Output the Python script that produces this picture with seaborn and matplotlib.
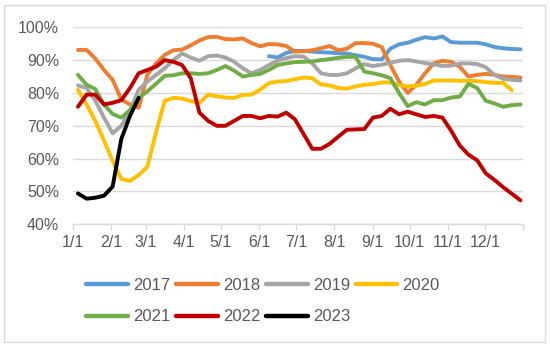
import numpy as np
import pandas as pd
import matplotlib
matplotlib.use("Agg")
import matplotlib.pyplot as plt
import seaborn as sns
from matplotlib.patches import Rectangle
from matplotlib.lines import Line2D

# ---------------- data (weekly, %) ----------------
years = ["2017", "2018", "2019", "2020", "2021", "2022", "2023"]
colors = ["#5B9BD5", "#ED7D31", "#A5A5A5", "#FFC000", "#70AD47", "#C00000", "#000000"]

start_week_2017 = 22
y2017 = [91.2, 90.8, 92.2, 92.8, 92.8, 92.6, 92.4, 92.3, 92.1, 92.0,
         91.5, 91.0, 90.3, 90.2, 93.5, 94.8, 95.3, 96.2, 97.0, 96.6,
         97.2, 95.5, 95.3, 95.3, 95.3, 94.8, 94.0, 93.6, 93.4, 93.3]
y2018 = [93.1, 93.1, 90.5, 87.0, 84.0, 78.0, 76.5, 75.5, 85.5, 89.0,
         91.6, 93.0, 93.2, 94.5, 96.0, 97.0, 97.1, 96.4, 96.3, 96.6,
         95.2, 94.2, 94.9, 94.8, 94.3, 92.6, 92.7, 93.0, 93.6, 94.3,
         93.0, 93.5, 95.2, 95.2, 95.0, 94.0, 88.5, 83.5, 80.0, 82.5,
         86.0, 89.0, 89.8, 89.5, 88.0, 85.0, 85.5, 85.8, 85.5, 85.0,
         84.9, 84.7]
y2019 = [82.3, 81.5, 77.7, 72.5, 67.7, 70.0, 74.5, 81.0, 83.5, 85.5,
         87.5, 90.0, 92.0, 90.8, 89.8, 91.2, 91.4, 90.8, 89.5, 87.5,
         86.0, 87.0, 88.5, 89.8, 90.6, 91.2, 91.1, 89.0, 86.0, 85.5,
         85.5, 86.0, 87.5, 88.8, 88.2, 88.6, 89.2, 89.8, 90.0, 89.6,
         89.1, 88.7, 88.2, 88.3, 89.0, 89.0, 88.8, 87.8, 85.5, 84.3,
         84.0, 83.8]
y2020 = [81.0, 76.5, 71.5, 65.5, 59.3, 53.8, 53.2, 55.0, 57.5, 68.0,
         77.6, 78.5, 78.3, 77.5, 77.0, 79.5, 79.0, 78.6, 78.5, 79.4,
         79.5, 81.0, 83.0, 83.5, 83.6, 84.2, 84.7, 84.5, 82.6, 82.3,
         81.5, 81.3, 82.0, 82.5, 82.7, 83.2, 83.2, 82.4, 82.0, 82.2,
         82.7, 83.8, 83.8, 83.8, 83.7, 83.7, 83.6, 83.3, 83.1, 83.1,
         80.8]
y2021 = [85.5, 82.5, 81.2, 76.5, 73.6, 72.5, 74.8, 78.5, 80.5, 82.8,
         85.2, 85.4, 86.0, 86.0, 85.8, 86.0, 87.0, 88.2, 86.8, 85.0,
         85.5, 85.8, 87.0, 88.5, 89.0, 89.4, 89.5, 89.6, 90.0, 90.3,
         90.7, 91.0, 91.0, 86.5, 86.0, 85.4, 84.5, 80.0, 76.0, 77.2,
         76.5, 77.8, 77.8, 78.6, 78.9, 82.8, 81.5, 77.6, 76.8, 75.8,
         76.3, 76.5]
y2022 = [75.8, 79.5, 79.5, 76.5, 77.0, 77.8, 81.5, 86.0, 87.0, 88.0,
         90.0, 89.5, 88.5, 84.5, 74.0, 71.5, 70.0, 70.0, 71.5, 73.0,
         73.0, 72.3, 73.0, 72.8, 74.0, 72.0, 67.5, 63.0, 63.0, 64.5,
         66.7, 68.8, 68.9, 69.0, 72.5, 73.0, 75.2, 73.5, 74.3, 73.5,
         72.7, 73.0, 72.5, 68.5, 64.0, 61.2, 59.5, 55.5, 53.5, 51.3,
         49.3, 47.3]
y2023 = [49.4, 47.8, 48.1, 48.7, 51.5, 66.0, 73.0, 78.5]

month_labels = ["1/1", "2/1", "3/1", "4/1", "5/1", "6/1", "7/1",
                "8/1", "9/1", "10/1", "11/1", "12/1", ""]
month_start_days = [0, 31, 59, 90, 120, 151, 181, 212, 243, 273, 304, 334, 365]

# week dates expressed as day-of-year
week_days = np.linspace(4, 363, 52)

series = {
    "2017": (start_week_2017, y2017),
    "2018": (0, y2018),
    "2019": (0, y2019),
    "2020": (0, y2020),
    "2021": (0, y2021),
    "2022": (0, y2022),
    "2023": (0, y2023),
}
rows = []
for yr in years:
    s, vals = series[yr]
    for k, v in enumerate(vals):
        rows.append({"day": week_days[s + k], "rate": v, "year": yr})
df = pd.DataFrame(rows)

# ---------------- style ----------------
sns.set_theme(style="white")
plt.rcParams["font.family"] = ["Liberation Sans", "DejaVu Sans"]
txt = "#595959"
grid = "#D9D9D9"

fig = plt.figure(figsize=(5.5, 3.47), dpi=100)
ax = fig.add_axes([73 / 550, 1 - 224.3 / 347, 450 / 550, (224.3 - 27.3) / 347])

palette = dict(zip(years, colors))
sns.lineplot(data=df, x="day", y="rate", hue="year", hue_order=years,
             palette=palette, linewidth=2.8, sort=False, ax=ax, legend=False,
             estimator=None)

ax.set_xlim(0, 365)
ax.set_ylim(40, 100)
ax.set_yticks(np.arange(40, 101, 10))
ax.set_yticklabels([f"{v}%" for v in range(40, 101, 10)])
ax.set_xticks(month_start_days)
ax.set_xticklabels(month_labels)
ax.set_xlabel("")
ax.set_ylabel("")

ax.yaxis.grid(True, color=grid, linewidth=1.0)
ax.set_axisbelow(True)
for side in ["left", "top", "right"]:
    ax.spines[side].set_visible(False)
ax.spines["bottom"].set_color(grid)
ax.spines["bottom"].set_linewidth(1.0)
ax.tick_params(axis="y", length=0, pad=10, labelsize=11.5, labelcolor=txt)
ax.tick_params(axis="x", length=4.5, width=1.0, color=grid, pad=3,
               labelsize=11.5, labelcolor=txt, direction="out", bottom=True)

# legend (row-major order via column-major reordering)
handles = [Line2D([], [], color=c, linewidth=3.2, solid_capstyle="round") for c in colors]
order = [0, 4, 1, 5, 2, 6, 3]
leg = fig.legend([handles[i] for i in order], [years[i] for i in order],
                 ncol=4, loc="center", bbox_to_anchor=(263 / 550, 1 - 301 / 347),
                 frameon=False, fontsize=12, handlelength=2.5,
                 handletextpad=0.3, columnspacing=0.35, labelspacing=1.0,
                 borderpad=0.2)
for t in leg.get_texts():
    t.set_color(txt)

# outer chart border
fig.patches.append(Rectangle((4 / 550, 5 / 347), 541 / 550, 337 / 347,
                             transform=fig.transFigure, fill=False,
                             edgecolor=grid, linewidth=1.0))

fig.savefig("out.png", dpi=100)
